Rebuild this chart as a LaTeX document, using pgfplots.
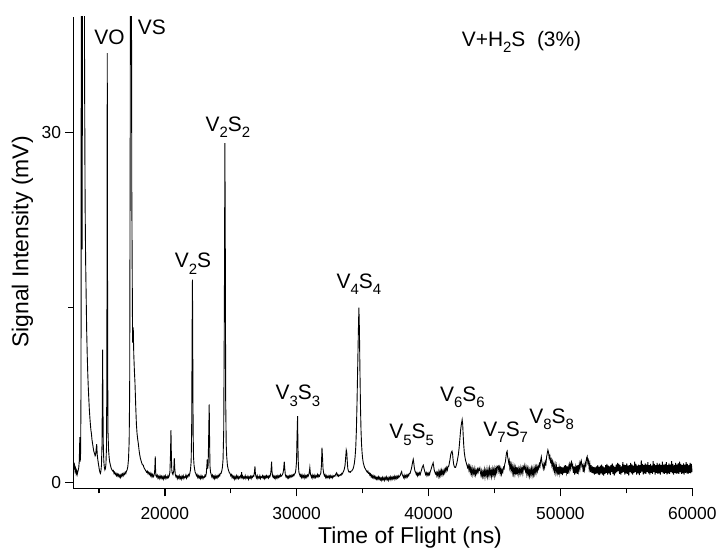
\documentclass[border=0pt]{standalone}
\usepackage{fontspec}
\setmainfont{Liberation Sans}
\usepackage{pgfplots}
\usepackage{pgfplotstable}
\pgfplotsset{compat=1.18}

% time of flight (ns) vs signal (mV)
\pgfplotstableread[row sep=\\]{
t s\\
13080 1.7\\ 13120 1.3\\ 13160 1.5\\ 13200 1.0\\ 13240 1.2\\ 13280 0.8\\ 13320 1.0\\ 13360 0.7\\ 13400 0.9\\ 13440 1.1\\
13480 1.3\\ 13520 1.9\\ 13560 3.9\\ 13590 1.8\\ 13620 2.6\\ 13650 8\\ 13680 60\\ 13710 48\\ 13740 20\\ 13770 60\\
13800 60\\ 13840 60\\ 13880 60\\ 13920 35\\ 13960 24\\ 14000 19\\ 14040 16\\ 14080 13\\ 14120 11\\ 14160 9.4\\
14200 8.2\\ 14240 7.2\\ 14280 6.3\\ 14320 5.6\\ 14360 5.0\\ 14400 4.5\\ 14440 4.2\\ 14480 3.7\\ 14520 3.4\\ 14560 3.1\\
14600 2.8\\ 14640 2.6\\ 14680 2.5\\ 14720 2.3\\ 14760 2.4\\ 14800 2.9\\ 14840 3.3\\ 14880 2.4\\ 14920 2.0\\ 14960 1.7\\
15000 1.4\\ 15040 1.1\\ 15080 0.9\\ 15120 0.8\\ 15160 1.0\\ 15200 1.5\\ 15240 3.2\\ 15270 7.5\\ 15290 11.4\\ 15310 7\\
15340 3.2\\ 15380 1.8\\ 15420 1.3\\ 15460 1.1\\ 15500 1.2\\ 15540 1.6\\ 15580 3.0\\ 15610 9\\ 15640 36.8\\ 15670 10\\
15700 4.2\\ 15740 2.8\\ 15780 2.2\\ 15820 1.8\\ 15860 1.6\\ 15900 1.4\\ 15950 1.2\\ 16000 1.1\\ 16050 1.0\\ 16100 1.05\\
16150 0.8\\ 16200 0.9\\ 16250 0.7\\ 16300 0.8\\ 16350 0.6\\ 16400 0.75\\ 16450 0.55\\ 16500 0.7\\ 16550 0.5\\ 16600 0.65\\
16650 0.45\\ 16700 0.7\\ 16750 0.55\\ 16800 0.75\\ 16850 0.6\\ 16900 0.8\\ 16950 0.7\\ 17000 0.9\\ 17050 0.8\\ 17100 1.0\\
17150 1.1\\ 17200 1.4\\ 17250 2.0\\ 17300 3.5\\ 17340 8\\ 17380 30\\ 17415 60\\ 17450 60\\ 17500 25\\ 17560 12\\
17610 13.3\\ 17650 11\\ 17700 9.5\\ 17740 8.6\\ 17800 6.5\\ 17850 5.0\\ 17900 4.2\\ 17950 3.7\\ 17990 3.4\\ 18050 2.8\\
18100 2.4\\ 18150 2.1\\ 18200 1.9\\ 18250 1.7\\ 18300 1.55\\ 18370 1.5\\ 18420 1.3\\ 18470 1.2\\ 18520 1.1\\ 18570 1.0\\
18620 0.9\\ 18670 1.0\\ 18720 0.8\\ 18770 0.9\\ 18820 0.7\\ 18880 0.85\\ 18930 0.6\\ 18980 0.75\\ 19030 0.5\\ 19080 0.7\\
19130 0.5\\ 19180 0.6\\ 19230 0.9\\ 19260 1.6\\ 19280 2.25\\ 19300 1.2\\ 19330 0.6\\ 19380 0.5\\ 19430 0.65\\ 19480 0.4\\
19530 0.55\\ 19580 0.35\\ 19640 0.6\\ 19690 0.4\\ 19740 0.55\\ 19790 0.35\\ 19840 0.5\\ 19890 0.3\\ 19940 0.55\\ 19990 0.4\\
20040 0.6\\ 20090 0.35\\ 20140 0.5\\ 20190 0.4\\ 20240 0.6\\ 20290 0.45\\ 20340 0.6\\ 20390 0.9\\ 20430 2.2\\ 20470 4.5\\
20500 2.4\\ 20530 1.1\\ 20570 0.8\\ 20620 0.7\\ 20680 1.0\\ 20720 2.1\\ 20760 1.2\\ 20800 0.7\\ 20850 0.5\\ 20900 0.6\\
20950 0.35\\ 21000 0.55\\ 21050 0.4\\ 21100 0.6\\ 21150 0.35\\ 21200 0.5\\ 21250 0.3\\ 21300 0.55\\ 21350 0.4\\ 21400 0.6\\
21450 0.35\\ 21500 0.5\\ 21550 0.45\\ 21600 0.65\\ 21650 0.4\\ 21700 0.6\\ 21750 0.5\\ 21800 0.7\\ 21850 0.6\\ 21900 0.8\\
21950 1.1\\ 22000 1.8\\ 22040 4.5\\ 22080 14\\ 22100 17.4\\ 22120 12\\ 22150 4.5\\ 22180 2.2\\ 22220 1.5\\ 22260 1.2\\
22300 0.9\\ 22350 0.8\\ 22400 0.6\\ 22450 0.7\\ 22500 0.45\\ 22550 0.6\\ 22600 0.4\\ 22650 0.55\\ 22700 0.35\\ 22750 0.6\\
22800 0.4\\ 22850 0.55\\ 22900 0.35\\ 22950 0.5\\ 23000 0.45\\ 23050 0.65\\ 23100 0.55\\ 23150 0.8\\ 23190 1.4\\ 23220 2.0\\
23250 1.2\\ 23290 1.5\\ 23330 4.0\\ 23370 6.7\\ 23400 3.5\\ 23430 1.4\\ 23470 0.9\\ 23520 0.7\\ 23570 0.5\\ 23620 0.65\\
23670 0.4\\ 23720 0.55\\ 23770 0.35\\ 23820 0.6\\ 23870 0.4\\ 23920 0.55\\ 23970 0.4\\ 24020 0.6\\ 24070 0.5\\ 24120 0.7\\
24170 0.6\\ 24220 0.8\\ 24270 0.8\\ 24320 1.0\\ 24370 1.3\\ 24420 2.0\\ 24470 4.5\\ 24520 15\\ 24560 29.1\\ 24590 20\\
24620 7\\ 24660 3.2\\ 24700 2.2\\ 24750 1.5\\ 24800 1.2\\ 24850 1.0\\ 24900 0.85\\ 24950 0.8\\ 25000 0.6\\ 25050 0.7\\
25100 0.45\\ 25150 0.6\\ 25200 0.4\\ 25250 0.55\\ 25300 0.3\\ 25350 0.5\\ 25400 0.35\\ 25450 0.6\\ 25500 0.4\\ 25550 0.55\\
25600 0.35\\ 25650 0.5\\ 25700 0.4\\ 25750 0.6\\ 25800 0.5\\ 25830 0.9\\ 25860 0.45\\ 25900 0.55\\ 25950 0.35\\ 26000 0.5\\
26050 0.4\\ 26100 0.6\\ 26150 0.35\\ 26200 0.5\\ 26250 0.4\\ 26300 0.55\\ 26350 0.3\\ 26400 0.5\\ 26450 0.4\\ 26500 0.55\\
26550 0.35\\ 26600 0.55\\ 26650 0.45\\ 26700 0.6\\ 26750 0.55\\ 26800 0.9\\ 26840 1.4\\ 26870 0.8\\ 26910 0.55\\ 26960 0.4\\
27010 0.6\\ 27060 0.35\\ 27110 0.5\\ 27160 0.4\\ 27210 0.6\\ 27260 0.35\\ 27310 0.5\\ 27360 0.45\\ 27410 0.6\\ 27460 0.4\\
27510 0.55\\ 27560 0.35\\ 27610 0.55\\ 27660 0.4\\ 27710 0.6\\ 27760 0.45\\ 27810 0.55\\ 27860 0.4\\ 27910 0.6\\ 27960 0.5\\
28020 0.7\\ 28060 1.1\\ 28100 1.8\\ 28130 1.0\\ 28170 0.6\\ 28220 0.45\\ 28270 0.6\\ 28320 0.4\\ 28370 0.55\\ 28420 0.35\\
28470 0.55\\ 28520 0.4\\ 28570 0.6\\ 28620 0.45\\ 28670 0.6\\ 28720 0.5\\ 28770 0.7\\ 28820 0.55\\ 28870 0.6\\ 28920 0.7\\
28960 0.8\\ 29010 1.1\\ 29060 1.8\\ 29100 1.2\\ 29140 0.7\\ 29190 0.5\\ 29240 0.6\\ 29290 0.4\\ 29340 0.55\\ 29390 0.4\\
29440 0.6\\ 29490 0.45\\ 29540 0.6\\ 29590 0.5\\ 29640 0.65\\ 29690 0.55\\ 29740 0.7\\ 29790 0.6\\ 29840 0.75\\ 29890 0.8\\
29940 1.1\\ 29990 1.8\\ 30030 4.0\\ 30070 5.7\\ 30100 3.0\\ 30130 1.5\\ 30170 0.9\\ 30220 0.7\\ 30270 0.55\\ 30320 0.7\\
30370 0.45\\ 30420 0.65\\ 30470 0.45\\ 30520 0.6\\ 30570 0.4\\ 30620 0.65\\ 30670 0.45\\ 30720 0.6\\ 30770 0.45\\ 30820 0.65\\
30870 0.55\\ 30920 0.7\\ 30960 0.9\\ 31000 1.3\\ 31040 0.8\\ 31080 0.6\\ 31130 0.45\\ 31180 0.65\\ 31230 0.4\\ 31280 0.6\\
31330 0.45\\ 31380 0.65\\ 31430 0.45\\ 31480 0.6\\ 31530 0.5\\ 31580 0.7\\ 31630 0.5\\ 31680 0.65\\ 31730 0.55\\ 31780 0.7\\
31830 0.8\\ 31880 1.5\\ 31920 3.0\\ 31960 2.2\\ 32000 1.2\\ 32050 0.8\\ 32100 0.6\\ 32150 0.7\\ 32200 0.45\\ 32250 0.6\\
32300 0.4\\ 32350 0.55\\ 32400 0.45\\ 32450 0.6\\ 32500 0.4\\ 32550 0.6\\ 32600 0.45\\ 32650 0.55\\ 32700 0.4\\ 32750 0.6\\
32800 0.5\\ 32850 0.6\\ 32900 0.55\\ 32950 0.7\\ 33000 0.8\\ 33030 0.85\\ 33070 0.6\\ 33120 0.7\\ 33170 0.55\\ 33220 0.65\\
33270 0.6\\ 33320 0.7\\ 33370 0.65\\ 33420 0.8\\ 33470 0.75\\ 33520 0.9\\ 33570 1.0\\ 33620 1.2\\ 33670 1.5\\ 33720 2.2\\
33760 2.8\\ 33800 2.6\\ 33840 1.8\\ 33880 1.2\\ 33930 1.0\\ 33980 0.9\\ 34030 0.95\\ 34080 0.9\\ 34130 1.0\\ 34180 1.0\\
34230 1.1\\ 34280 1.2\\ 34330 1.4\\ 34380 1.7\\ 34430 2.2\\ 34480 3.0\\ 34530 4.5\\ 34580 7\\ 34630 10\\ 34680 13\\
34720 15\\ 34760 13\\ 34800 9.5\\ 34840 6.5\\ 34880 4.5\\ 34920 3.3\\ 34960 2.6\\ 35000 2.1\\ 35050 1.7\\ 35100 1.5\\
35150 1.3\\ 35200 1.2\\ 35250 1.1\\ 35300 1.0\\ 35350 0.9\\ 35400 1.0\\ 35450 0.8\\ 35500 0.85\\ 35550 0.65\\ 35600 0.75\\
35650 0.5\\ 35700 0.65\\ 35750 0.45\\ 35800 0.6\\ 35850 0.4\\ 35900 0.55\\ 35950 0.35\\ 36000 0.5\\ 36050 0.3\\ 36100 0.45\\
36150 0.3\\ 36200 0.5\\ 36250 0.3\\ 36300 0.45\\ 36350 0.25\\ 36400 0.4\\ 36450 0.2\\ 36500 0.45\\ 36550 0.25\\ 36600 0.4\\
36650 0.2\\ 36700 0.45\\ 36750 0.3\\ 36800 0.5\\ 36850 0.25\\ 36900 0.4\\ 36950 0.2\\ 37000 0.45\\ 37050 0.3\\ 37100 0.5\\
37150 0.25\\ 37200 0.45\\ 37250 0.3\\ 37300 0.5\\ 37350 0.35\\ 37400 0.55\\ 37450 0.3\\ 37500 0.5\\ 37550 0.35\\ 37600 0.55\\
37650 0.4\\ 37700 0.6\\ 37750 0.45\\ 37800 0.55\\ 37850 0.6\\ 37900 0.8\\ 37960 0.95\\ 38000 0.7\\ 38050 0.6\\ 38100 0.45\\
38150 0.65\\ 38200 0.4\\ 38250 0.6\\ 38300 0.45\\ 38350 0.65\\ 38400 0.5\\ 38450 0.7\\ 38500 0.6\\ 38550 0.8\\ 38600 0.8\\
38650 1.0\\ 38700 1.2\\ 38750 1.5\\ 38800 1.8\\ 38840 2.0\\ 38880 1.7\\ 38920 1.3\\ 38970 1.0\\ 39020 0.9\\ 39070 0.7\\
39120 0.85\\ 39170 0.6\\ 39220 0.8\\ 39270 0.65\\ 39320 0.85\\ 39370 0.7\\ 39420 0.9\\ 39470 1.1\\ 39520 1.3\\ 39560 1.4\\
39600 1.5\\ 39640 1.3\\ 39680 1.1\\ 39730 0.9\\ 39780 0.7\\ 39830 0.85\\ 39880 0.6\\ 39930 0.8\\ 39980 0.65\\ 40030 0.85\\
40080 0.7\\ 40130 0.95\\ 40180 1.1\\ 40230 1.3\\ 40280 1.5\\ 40320 1.6\\ 40350 1.7\\ 40390 1.4\\ 40430 1.1\\ 40480 0.9\\
40530 0.75\\ 40580 0.9\\ 40630 0.6\\ 40680 0.85\\ 40730 0.55\\ 40780 0.95\\ 40830 0.6\\ 40880 1.0\\ 40930 0.65\\ 40980 1.05\\
41030 0.7\\ 41080 1.0\\ 41130 0.75\\ 41180 1.1\\ 41230 0.85\\ 41280 1.2\\ 41330 1.0\\ 41380 1.3\\ 41430 1.1\\ 41480 1.4\\
41530 1.4\\ 41580 1.7\\ 41630 2.0\\ 41680 2.4\\ 41730 2.6\\ 41780 2.7\\ 41820 2.5\\ 41860 2.0\\ 41900 1.6\\ 41950 1.4\\
42000 1.3\\ 42050 1.3\\ 42100 1.5\\ 42150 1.7\\ 42200 2.0\\ 42260 2.4\\ 42320 3.0\\ 42380 3.8\\ 42440 4.6\\ 42500 5.1\\
42550 5.4\\ 42590 5.0\\ 42630 4.0\\ 42670 3.2\\ 42710 2.6\\ 42760 2.2\\ 42810 1.9\\ 42860 1.7\\ 42910 1.5\\ 42960 1.3\\
43010 1.5\\ 43060 1.1\\ 43110 1.4\\ 43160 0.9\\ 43210 1.3\\ 43260 0.8\\ 43310 1.2\\ 43360 0.7\\ 43410 1.1\\ 43460 0.75\\
43510 1.2\\ 43560 0.7\\ 43610 1.05\\ 43660 0.8\\ 43710 1.15\\ 43760 0.9\\ 43810 1.2\\ 43850 1.1\\ 43890 1.25\\ 43930 0.9\\
43980 0.6\\ 44030 1.0\\ 44080 0.55\\ 44130 0.95\\ 44180 0.6\\ 44230 1.1\\ 44280 0.5\\ 44330 1.0\\ 44380 0.65\\ 44430 1.15\\
44480 0.55\\ 44530 1.05\\ 44580 0.6\\ 44630 1.2\\ 44680 0.7\\ 44730 1.05\\ 44780 0.55\\ 44830 1.15\\ 44880 0.7\\ 44930 1.1\\
44980 0.6\\ 45030 1.2\\ 45080 0.75\\ 45130 1.25\\ 45180 0.9\\ 45230 1.4\\ 45280 1.45\\ 45330 1.0\\ 45380 1.3\\ 45430 0.8\\
45480 1.2\\ 45530 0.75\\ 45580 1.1\\ 45630 0.9\\ 45680 1.3\\ 45730 1.2\\ 45780 1.6\\ 45830 1.8\\ 45880 2.3\\ 45920 2.6\\
45960 2.7\\ 46000 2.2\\ 46040 2.0\\ 46080 1.7\\ 46120 1.9\\ 46160 1.3\\ 46200 1.6\\ 46250 1.1\\ 46300 1.5\\ 46350 0.9\\
46400 1.4\\ 46450 0.8\\ 46500 1.3\\ 46550 0.75\\ 46600 1.25\\ 46650 0.7\\ 46700 1.35\\ 46750 0.85\\ 46800 1.2\\ 46850 0.7\\
46900 1.15\\ 46950 0.8\\ 47000 1.3\\ 47050 0.9\\ 47100 1.25\\ 47150 0.8\\ 47200 1.35\\ 47250 1.2\\ 47300 1.5\\ 47350 1.0\\
47400 1.3\\ 47450 0.75\\ 47500 1.2\\ 47550 0.7\\ 47600 1.15\\ 47650 0.6\\ 47700 1.1\\ 47750 0.7\\ 47800 1.2\\ 47850 0.65\\
47900 1.15\\ 47950 0.7\\ 48000 1.25\\ 48050 0.8\\ 48100 1.3\\ 48150 0.85\\ 48200 1.35\\ 48250 1.0\\ 48300 1.4\\ 48350 1.2\\
48400 1.6\\ 48450 1.4\\ 48500 1.9\\ 48550 2.2\\ 48600 1.7\\ 48650 1.5\\ 48700 1.2\\ 48750 1.6\\ 48800 1.3\\ 48850 1.8\\
48900 1.6\\ 48950 2.2\\ 49000 2.5\\ 49050 2.8\\ 49100 2.6\\ 49150 2.1\\ 49200 2.3\\ 49250 1.8\\ 49300 2.0\\ 49350 1.5\\
49400 1.8\\ 49450 1.2\\ 49500 1.6\\ 49550 1.0\\ 49600 1.5\\ 49650 0.9\\ 49700 1.4\\ 49750 0.85\\ 49800 1.35\\ 49850 0.7\\
49900 1.3\\ 49950 0.8\\ 50000 1.4\\ 50050 0.75\\ 50100 1.35\\ 50150 0.65\\ 50200 1.3\\ 50250 0.8\\ 50300 1.45\\ 50350 0.85\\
50400 1.5\\ 50450 0.9\\ 50500 1.4\\ 50550 0.75\\ 50600 1.35\\ 50650 1.0\\ 50700 1.55\\ 50750 1.2\\ 50800 1.7\\ 50840 1.8\\
50880 1.3\\ 50930 1.5\\ 50980 0.85\\ 51030 1.4\\ 51080 0.7\\ 51130 1.3\\ 51180 0.8\\ 51230 1.45\\ 51280 0.75\\ 51330 1.5\\
51380 1.0\\ 51430 1.6\\ 51480 1.2\\ 51530 1.75\\ 51580 1.9\\ 51630 1.4\\ 51680 1.5\\ 51730 0.9\\ 51780 1.45\\ 51830 1.1\\
51880 1.7\\ 51930 1.5\\ 51980 2.1\\ 52030 2.25\\ 52080 1.7\\ 52130 1.9\\ 52180 1.2\\ 52230 1.6\\ 52280 0.9\\ 52330 1.5\\
52380 0.85\\ 52430 1.4\\ 52480 0.8\\ 52530 1.35\\ 52580 0.7\\ 52630 1.3\\ 52680 0.75\\ 52730 1.4\\ 52780 0.8\\ 52830 1.5\\
52880 0.7\\ 52930 1.35\\ 52980 0.65\\ 53030 1.45\\ 53080 0.8\\ 53130 1.55\\ 53180 0.7\\ 53230 1.4\\ 53280 0.6\\ 53330 1.3\\
53380 0.75\\ 53430 1.5\\ 53480 0.85\\ 53530 1.6\\ 53580 0.7\\ 53630 1.45\\ 53680 0.8\\ 53730 1.4\\ 53780 0.65\\ 53830 1.5\\
53880 0.9\\ 53930 1.65\\ 53980 0.75\\ 54030 1.45\\ 54080 0.6\\ 54130 1.35\\ 54180 0.8\\ 54230 1.55\\ 54280 0.9\\ 54330 1.7\\
54380 1.0\\ 54430 1.6\\ 54480 0.75\\ 54530 1.5\\ 54580 0.7\\ 54630 1.4\\ 54680 0.85\\ 54730 1.75\\ 54780 0.9\\ 54830 1.55\\
54880 0.7\\ 54930 1.5\\ 54980 0.8\\ 55030 1.65\\ 55080 0.75\\ 55130 1.45\\ 55180 0.6\\ 55230 1.5\\ 55280 0.9\\ 55330 1.7\\
55380 0.8\\ 55430 1.55\\ 55480 0.7\\ 55530 1.45\\ 55580 0.85\\ 55630 1.8\\ 55680 0.9\\ 55730 1.6\\ 55780 0.7\\ 55830 1.45\\
55880 0.8\\ 55930 1.55\\ 55980 0.65\\ 56030 1.5\\ 56080 0.85\\ 56130 1.9\\ 56180 0.95\\ 56230 1.6\\ 56280 0.7\\ 56330 1.5\\
56380 0.8\\ 56430 1.65\\ 56480 0.75\\ 56530 1.55\\ 56580 0.9\\ 56630 1.75\\ 56680 0.8\\ 56730 1.5\\ 56780 0.7\\ 56830 1.6\\
56880 0.85\\ 56930 1.45\\ 56980 0.75\\ 57030 1.85\\ 57080 0.9\\ 57130 1.6\\ 57180 0.7\\ 57230 1.5\\ 57280 0.85\\ 57330 1.7\\
57380 0.75\\ 57430 1.55\\ 57480 0.8\\ 57530 1.65\\ 57580 0.7\\ 57630 1.5\\ 57680 0.9\\ 57730 1.8\\ 57780 0.8\\ 57830 1.55\\
57880 0.75\\ 57930 1.6\\ 57980 0.85\\ 58030 1.75\\ 58080 0.7\\ 58130 1.5\\ 58180 0.8\\ 58230 1.65\\ 58280 0.75\\ 58330 1.55\\
58380 0.9\\ 58430 1.85\\ 58480 0.8\\ 58530 1.6\\ 58580 0.7\\ 58630 1.5\\ 58680 0.85\\ 58730 1.7\\ 58780 0.75\\ 58830 1.55\\
58880 0.8\\ 58930 1.65\\ 58980 0.75\\ 59030 1.8\\ 59080 0.9\\ 59130 1.6\\ 59180 0.75\\ 59230 1.5\\ 59280 0.8\\ 59330 1.65\\
59380 0.7\\ 59430 1.55\\ 59480 0.85\\ 59530 1.75\\ 59580 0.8\\ 59630 1.6\\ 59680 0.75\\ 59730 1.5\\ 59780 0.85\\ 59830 1.7\\
59880 0.8\\ 59930 1.6\\ 59980 0.9\\ 60000 1.2\\
}\spec

\newcommand{\sub}[1]{\raisebox{-0.3em}{\fontsize{15}{15}\selectfont #1}}

\begin{document}
\begin{tikzpicture}[x=1bp,y=1bp]
\begin{axis}[
  scale only axis,
  width=618.8bp, height=471.3bp,
  xmin=13080, xmax=60000,
  ymin=-0.48, ymax=39.9,
  axis x line*=bottom, axis y line*=left,
  axis line style={-, line width=1.5bp},
  tick style={line width=1.5bp, black},
  tick align=outside,
  major tick length=8bp, minor tick length=5bp,
  xtick={20000,30000,40000,50000,60000},
  minor xtick={15000,25000,35000,45000,55000},
  ytick={0,30}, minor ytick={15},
  scaled x ticks=false,
  xticklabel style={/pgf/number format/1000 sep={}, inner sep=1bp, yshift=-10bp},
  yticklabel style={xshift=-1bp},
  ticklabel style={font=\fontsize{17.5}{19}\selectfont},
  /pgf/number format/assume math mode=true,
  xlabel={Time of Flight (ns)},
  ylabel={Signal Intensity (mV)},
  label style={font=\fontsize{23}{25}\selectfont},
  xlabel style={at={(axis description cs:0.5438,-0.1161)}, anchor=base, inner sep=0pt},
  ylabel style={at={(axis description cs:-0.0824,0.5226)}, anchor=center},
  clip mode=individual,
]
\addplot[black, line width=0.9bp, mark=none] table[x=t, y=s] {\spec};

\begin{scope}[every node/.style={anchor=base, inner sep=0pt, font=\fontsize{21}{23}\selectfont}]
\node at (axis cs:15807,37.52) {VO};
\node at (axis cs:19017,38.37) {VS};
\node at (axis cs:22138,18.4) {V\sub{2}S};
\node at (axis cs:24792,30.09) {V\sub{2}S\sub{2}};
\node at (axis cs:30099,7.09) {V\sub{3}S\sub{3}};
\node at (axis cs:34724,16.66) {V\sub{4}S\sub{4}};
\node at (axis cs:38720,3.75) {V\sub{5}S\sub{5}};
\node at (axis cs:42572,6.94) {V\sub{6}S\sub{6}};
\node at (axis cs:45855,3.94) {V\sub{7}S\sub{7}};
\node at (axis cs:49335,5.09) {V\sub{8}S\sub{8}};
\node[anchor=base west] at (axis cs:42511,37.37) {V+H\sub{2}S~~(3\%)};
\end{scope}
\end{axis}
\pgfresetboundingbox
\useasboundingbox (-73.5,-59.7) rectangle (642.5,488.3);
\end{tikzpicture}
\end{document}
